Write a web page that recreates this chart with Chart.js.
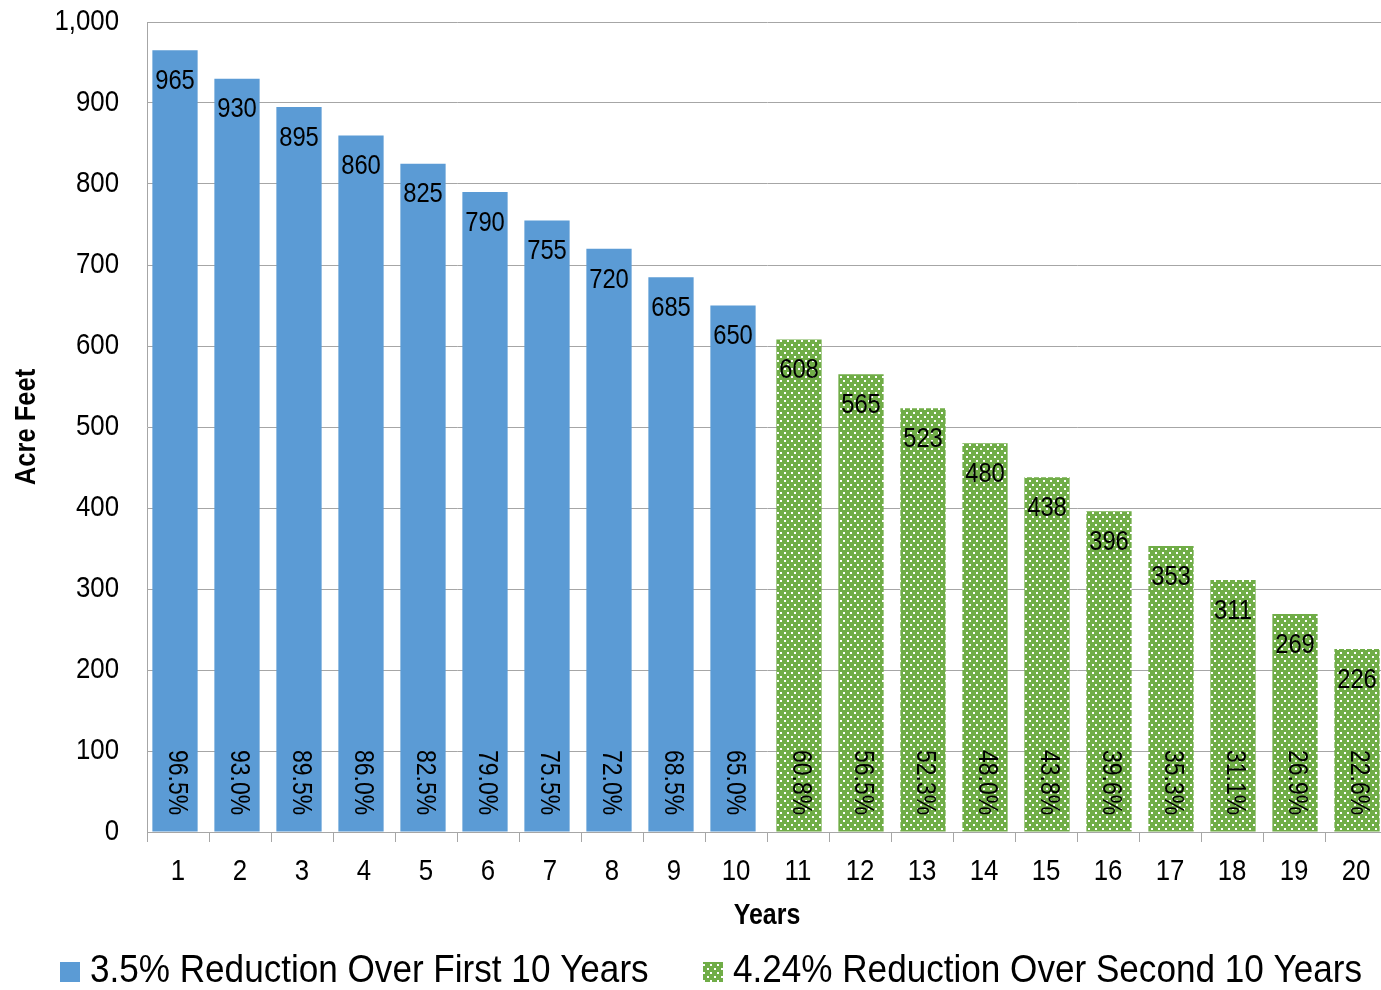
<!DOCTYPE html>
<html>
<head>
<meta charset="utf-8">
<script src="https://cdn.jsdelivr.net/npm/chart.js@4/dist/chart.umd.min.js"></script>
<style>
  html, body { margin: 0; padding: 0; background: #ffffff; overflow: hidden; }
  #wrap { width: 1381px; height: 990px; overflow: hidden; }
  #c { display: block; }
</style>
</head>
<body>
<div id="wrap"><canvas id="c" width="1387" height="990"></canvas></div>
<script>
// Years on the horizontal axis
const years = ['1','2','3','4','5','6','7','8','9','10','11','12','13','14','15','16','17','18','19','20'];
// Allocation in acre feet, first decade (3.5% annual reduction)
const firstDecade = [965, 930, 895, 860, 825, 790, 755, 720, 685, 650, null, null, null, null, null, null, null, null, null, null];
// Allocation in acre feet, second decade (4.24% annual reduction)
const secondDecade = [null, null, null, null, null, null, null, null, null, null, 608, 565, 523, 480, 438, 396, 353, 311, 269, 226];
// Share of the original 1,000 acre feet, as printed inside each bar
const shareLabels = ['96.5%','93.0%','89.5%','86.0%','82.5%','79.0%','75.5%','72.0%','68.5%','65.0%','60.8%','56.5%','52.3%','48.0%','43.8%','39.6%','35.3%','31.1%','26.9%','22.6%'];
// Value-axis ticks
const yTicks = [0, 100, 200, 300, 400, 500, 600, 700, 800, 900, 1000];
const seriesNames = ['3.5% Reduction Over First 10 Years', '4.24% Reduction Over Second 10 Years'];

const FONT = "'Liberation Sans', Arial, sans-serif";
const BLUE = '#5B9BD5';
const GREEN = '#70AD47';
const GRID = '#A6A6A6';
// The two series sit slightly apart from the category centre, like a clustered pair with heavy overlap
const seriesNudge = [-3, 1];

// Dotted green fill
function dotPattern() {
  const p = document.createElement('canvas');
  p.width = 7; p.height = 8;
  const g = p.getContext('2d');
  g.fillStyle = GREEN;
  g.fillRect(0, 0, 7, 8);
  g.fillStyle = '#ffffff';
  g.fillRect(0, 0, 2, 2);
  g.fillRect(3, 4, 2, 2);
  return g.createPattern(p, 'repeat');
}
const greenFill = dotPattern();

// Narrow-looking text: a regular face squeezed along its baseline
function narrowText(ctx, s, x, y, o) {
  ctx.save();
  ctx.translate(x, y);
  if (o.rot) ctx.rotate(o.rot);
  ctx.scale(o.sx, 1);
  ctx.font = (o.bold ? 'bold ' : '') + o.size + 'px ' + FONT;
  ctx.fillStyle = '#000000';
  ctx.textAlign = o.align || 'center';
  ctx.textBaseline = 'middle';
  ctx.fillText(s, 0, 0);
  ctx.restore();
}

// Shift each series a little off the category centre
const seriesOffset = {
  id: 'seriesOffset',
  afterDatasetsUpdate(chart) {
    chart.data.datasets.forEach((ds, di) => {
      chart.getDatasetMeta(di).data.forEach(el => { el.x += seriesNudge[di]; });
    });
  }
};

// Axis tick labels and titles
const axisText = {
  id: 'axisText',
  afterDraw(chart) {
    const ctx = chart.ctx;
    const x = chart.scales.x, y = chart.scales.y, a = chart.chartArea;
    yTicks.forEach(v => {
      narrowText(ctx, v.toLocaleString('en-US'), a.left - 28, y.getPixelForValue(v),
                 { size: 30, sx: 0.86, align: 'right' });
    });
    years.forEach((lab, i) => {
      narrowText(ctx, lab, x.getPixelForValue(i), a.bottom + 40, { size: 30, sx: 0.86 });
    });
    narrowText(ctx, 'Years', (a.left + a.right) / 2, a.bottom + 84, { size: 29, sx: 0.86, bold: true });
    narrowText(ctx, 'Acre Feet', 27, (a.top + a.bottom) / 2, { size: 29, sx: 0.88, bold: true, rot: -Math.PI / 2 });
  }
};

// Value at the top of each bar, share rotated near its base
const barLabels = {
  id: 'barLabels',
  afterDatasetsDraw(chart) {
    const ctx = chart.ctx;
    const y = chart.scales.y;
    chart.data.datasets.forEach((ds, di) => {
      const meta = chart.getDatasetMeta(di);
      meta.data.forEach((el, i) => {
        const v = ds.data[i];
        if (v === null || v === undefined) return;
        narrowText(ctx, String(v), el.x, el.y + 31, { size: 28, sx: 0.85 });
        narrowText(ctx, shareLabels[i], el.x + 2, y.getPixelForValue(100) - 1,
                   { size: 28, sx: 0.82, align: 'left', rot: Math.PI / 2 });
      });
    });
  }
};

// Legend row along the bottom edge
const bottomLegend = {
  id: 'bottomLegend',
  afterDraw(chart) {
    const ctx = chart.ctx;
    const starts = [60, 703];
    const cy = 972;
    chart.data.datasets.forEach((ds, i) => {
      const x = starts[i];
      ctx.save();
      ctx.fillStyle = ds.backgroundColor;
      ctx.fillRect(x, cy - 10, 20, 20);
      ctx.restore();
      narrowText(ctx, ds.label, x + 30, cy - 1, { size: 39, sx: 0.90, align: 'left' });
    });
  }
};

new Chart(document.getElementById('c'), {
  type: 'bar',
  data: {
    labels: years,
    datasets: [
      { label: seriesNames[0], data: firstDecade, backgroundColor: BLUE, grouped: false,
        categoryPercentage: 1, barPercentage: 0.73 },
      { label: seriesNames[1], data: secondDecade, backgroundColor: greenFill, grouped: false,
        categoryPercentage: 1, barPercentage: 0.73 }
    ]
  },
  options: {
    responsive: false,
    animation: false,
    devicePixelRatio: 1,
    layout: { padding: { top: 22, right: 0, left: 0, bottom: 48 } },
    plugins: {
      legend: { display: false },
      tooltip: { enabled: false }
    },
    scales: {
      x: {
        grid: { offset: true, drawOnChartArea: false, color: GRID, tickLength: 10 },
        border: { color: GRID },
        ticks: { display: false },
        afterFit(s) { s.height = 110; }
      },
      y: {
        min: 0, max: 1000,
        afterBuildTicks(s) { s.ticks = yTicks.map(v => ({ value: v })); },
        grid: { color: GRID, drawTicks: false },
        border: { color: GRID },
        ticks: { display: false },
        afterFit(s) { s.width = 147; }
      }
    }
  },
  plugins: [seriesOffset, barLabels, axisText, bottomLegend]
});
</script>
</body>
</html>
